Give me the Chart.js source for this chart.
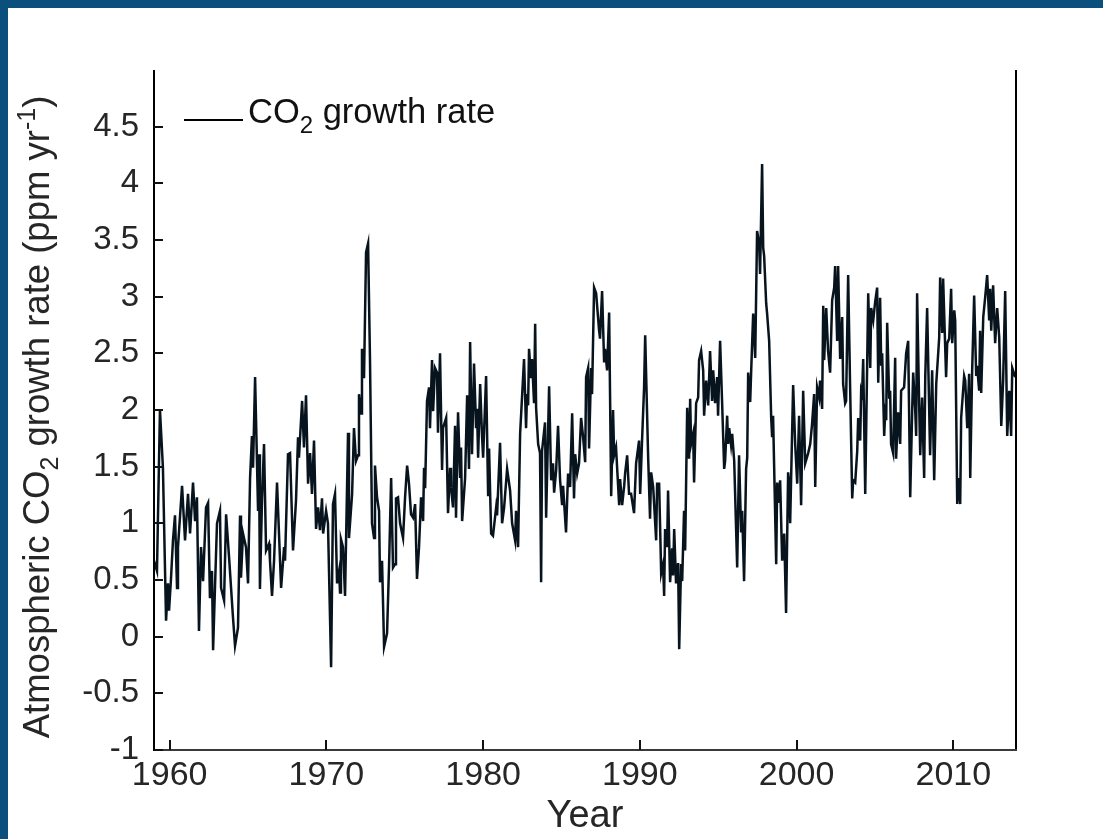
<!DOCTYPE html>
<html>
<head>
<meta charset="utf-8">
<script src="https://cdn.jsdelivr.net/npm/chart.js@4.4.0/dist/chart.umd.min.js"></script>
<style>
  html, body { margin: 0; padding: 0; background: #fff; overflow: hidden; }
  #wrap { position: relative; width: 1103px; height: 839px; }
  canvas { display: block; }
</style>
</head>
<body>
<div id="wrap"><canvas id="chart" width="1103" height="839"></canvas></div>
<script>
// Time of each sample, in decimal years
const years = [
  1959.00,1959.19,1959.38,1959.57,1959.77,1959.89,1959.96,1960.08,1960.21,1960.34,1960.47,1960.53,1960.79,1960.98,
  1961.17,1961.30,1961.49,1961.62,1961.74,1961.87,1962.00,1962.13,1962.32,1962.45,1962.57,1962.70,1962.77,1962.89,
  1963.02,1963.21,1963.28,1963.47,1963.60,1963.79,1964.04,1964.17,1964.36,1964.49,1964.55,1964.68,1964.87,1965.00,
  1965.13,1965.25,1965.32,1965.45,1965.64,1965.70,1965.76,1965.89,1966.02,1966.15,1966.34,1966.40,1966.53,1966.66,
  1966.85,1967.11,1967.30,1967.36,1967.55,1967.68,1967.87,1968.06,1968.19,1968.25,1968.45,1968.57,1968.70,1968.83,
  1968.96,1969.08,1969.21,1969.34,1969.47,1969.59,1969.72,1969.79,1969.98,1970.10,1970.30,1970.42,1970.55,1970.68,
  1970.81,1970.87,1970.93,1971.06,1971.19,1971.38,1971.44,1971.64,1971.76,1971.89,1972.02,1972.08,1972.21,1972.27,
  1972.40,1972.53,1972.66,1972.78,1972.91,1973.04,1973.10,1973.23,1973.36,1973.42,1973.55,1973.68,1973.87,1974.00,
  1974.13,1974.25,1974.38,1974.44,1974.57,1974.70,1974.89,1975.02,1975.15,1975.27,1975.40,1975.53,1975.66,1975.78,
  1975.91,1976.04,1976.17,1976.23,1976.30,1976.42,1976.55,1976.61,1976.74,1976.81,1976.93,1977.06,1977.12,1977.25,
  1977.38,1977.44,1977.64,1977.76,1977.89,1977.95,1978.08,1978.21,1978.27,1978.40,1978.53,1978.59,1978.66,1978.85,
  1978.98,1979.10,1979.17,1979.29,1979.42,1979.55,1979.61,1979.68,1979.81,1979.93,1980.00,1980.19,1980.32,1980.38,
  1980.51,1980.63,1980.83,1980.89,1981.08,1981.21,1981.34,1981.53,1981.72,1981.85,1982.04,1982.10,1982.23,1982.36,
  1982.61,1982.74,1982.80,1982.87,1982.93,1983.06,1983.12,1983.25,1983.32,1983.38,1983.51,1983.63,1983.70,1983.76,
  1983.95,1984.02,1984.21,1984.34,1984.46,1984.53,1984.66,1984.78,1984.91,1985.04,1985.10,1985.29,1985.42,1985.55,
  1985.68,1985.80,1985.87,1986.00,1986.12,1986.25,1986.38,1986.51,1986.57,1986.70,1986.76,1986.89,1986.95,1987.08,
  1987.21,1987.40,1987.46,1987.59,1987.72,1987.78,1987.91,1988.04,1988.17,1988.29,1988.36,1988.48,1988.68,1988.74,
  1988.87,1989.00,1989.06,1989.19,1989.31,1989.44,1989.63,1989.76,1989.95,1990.02,1990.14,1990.27,1990.34,1990.53,
  1990.65,1990.72,1990.85,1991.04,1991.10,1991.23,1991.36,1991.48,1991.55,1991.61,1991.74,1991.80,1991.93,1992.06,
  1992.12,1992.19,1992.31,1992.44,1992.51,1992.63,1992.70,1992.82,1992.89,1993.02,1993.14,1993.21,1993.27,1993.40,
  1993.46,1993.59,1993.72,1993.78,1993.91,1994.04,1994.10,1994.23,1994.36,1994.48,1994.61,1994.68,1994.80,1994.93,
  1994.99,1995.12,1995.25,1995.38,1995.44,1995.57,1995.63,1995.70,1995.82,1995.89,1996.02,1996.21,1996.33,1996.46,
  1996.53,1996.65,1996.78,1996.85,1996.91,1997.04,1997.10,1997.23,1997.36,1997.48,1997.61,1997.67,1997.80,1997.87,
  1997.93,1998.06,1998.12,1998.25,1998.38,1998.44,1998.50,1998.70,1998.76,1998.82,1998.95,1999.08,1999.21,1999.33,
  1999.46,1999.53,1999.59,1999.78,1999.91,2000.04,2000.16,2000.29,2000.42,2000.55,2000.74,2000.87,2000.99,2001.12,
  2001.19,2001.31,2001.44,2001.50,2001.63,2001.70,2001.76,2001.89,2002.01,2002.14,2002.27,2002.40,2002.46,2002.59,
  2002.65,2002.78,2002.91,2002.97,2003.10,2003.16,2003.29,2003.42,2003.55,2003.61,2003.74,2003.87,2003.93,2004.06,
  2004.12,2004.18,2004.25,2004.38,2004.50,2004.57,2004.70,2004.76,2004.89,2005.01,2005.14,2005.21,2005.33,2005.40,
  2005.46,2005.59,2005.65,2005.72,2005.78,2005.91,2005.97,2006.03,2006.16,2006.29,2006.35,2006.48,2006.61,2006.67,
  2006.86,2006.99,2007.12,2007.25,2007.38,2007.44,2007.57,2007.63,2007.69,2007.82,2007.89,2008.01,2008.14,2008.21,
  2008.33,2008.52,2008.65,2008.78,2008.91,2009.10,2009.16,2009.29,2009.35,2009.54,2009.61,2009.74,2009.86,2009.93,
  2010.06,2010.12,2010.25,2010.31,2010.44,2010.50,2010.69,2010.76,2010.89,2011.01,2011.08,2011.20,2011.33,2011.46,
  2011.52,2011.65,2011.71,2011.78,2011.91,2012.03,2012.16,2012.29,2012.35,2012.42,2012.54,2012.61,2012.67,2012.80,
  2012.93,2013.06,2013.18,2013.31,2013.44,2013.57,2013.69,2013.76,2013.95
];

// Atmospheric CO2 growth rate, ppm per year
const growthRate = [
  0.67,0.58,2.00,1.49,0.14,0.47,0.23,0.50,0.85,1.07,0.43,0.79,1.33,0.85,
  1.26,0.91,1.36,1.02,1.23,0.05,0.79,0.49,1.14,1.18,0.34,0.58,-0.12,0.43,
  1.00,1.11,0.43,0.32,1.08,0.70,0.17,-0.08,0.08,1.07,0.52,0.91,0.79,0.47,
  1.40,1.77,1.49,2.29,1.11,1.61,0.42,1.20,1.70,0.76,0.82,0.67,0.36,0.67,
  1.36,0.43,0.79,0.67,1.61,1.62,0.76,1.20,1.76,1.58,2.08,1.67,2.13,1.35,
  1.62,1.26,1.73,0.95,1.14,0.94,1.22,0.91,1.11,1.00,-0.27,1.17,1.26,0.47,
  0.58,0.39,0.86,0.79,0.36,1.80,0.87,1.26,1.84,1.55,1.60,2.14,1.97,2.54,
  2.28,3.39,3.47,2.46,1.00,0.87,1.51,1.23,1.11,0.48,0.67,-0.09,0.03,0.64,
  1.40,0.61,0.64,1.22,1.23,1.00,0.87,1.23,1.51,1.35,1.08,1.05,1.17,0.51,
  0.79,1.23,1.02,1.49,1.31,2.08,2.20,1.84,2.44,1.99,2.37,2.33,1.80,2.50,
  1.47,1.84,1.93,1.09,1.49,1.32,1.14,1.86,1.05,1.98,1.40,1.67,1.02,1.40,
  2.13,1.48,2.60,1.61,2.41,1.84,2.01,1.58,2.23,1.77,1.58,2.30,1.24,1.66,
  0.91,0.89,1.14,1.07,1.71,1.00,1.14,1.48,1.29,1.00,0.85,1.11,0.79,1.79,
  2.45,1.84,2.14,2.04,2.54,2.28,2.45,2.06,2.76,2.02,1.70,1.62,0.48,1.64,
  1.89,1.05,2.21,1.38,1.53,1.27,1.47,1.86,1.38,1.16,1.33,0.92,1.44,1.32,
  1.97,1.22,1.61,1.44,1.53,1.93,1.76,1.54,2.29,2.37,1.66,2.37,2.14,3.08,
  3.03,2.70,2.63,3.05,2.42,2.54,2.35,2.86,1.24,2.00,1.60,1.67,1.16,1.39,
  1.16,1.33,1.44,1.60,1.26,1.26,1.09,1.53,1.73,1.26,1.73,2.20,2.66,1.58,
  1.04,1.45,1.32,0.85,1.35,1.35,0.56,0.64,0.36,0.95,0.79,1.29,0.48,0.78,
  0.54,0.95,0.47,0.65,-0.11,0.64,0.49,1.11,0.76,2.02,1.57,2.10,1.70,1.79,
  1.36,2.06,2.11,2.44,2.52,2.35,1.95,2.26,2.04,2.52,2.08,2.35,2.06,2.29,
  1.95,2.61,2.06,1.48,1.55,1.95,1.70,1.84,1.69,1.79,1.55,0.61,1.60,0.92,
  1.11,0.49,1.48,1.58,2.33,2.07,2.33,2.85,2.46,3.58,3.47,3.20,4.17,3.43,
  3.36,2.94,2.85,2.61,1.93,1.76,1.95,0.64,1.36,1.18,1.38,0.67,0.91,0.21,
  1.45,1.35,1.00,2.22,1.70,1.35,1.95,1.16,2.17,1.53,1.62,1.70,1.88,2.14,
  1.32,2.20,2.11,2.26,2.01,2.92,2.44,2.90,2.52,2.33,2.97,3.08,3.27,2.61,
  3.27,2.45,2.82,2.23,2.06,2.08,3.19,2.17,1.22,1.38,1.36,1.64,1.93,1.73,
  2.17,2.14,2.45,1.26,2.37,3.03,2.37,2.90,2.79,2.95,3.08,2.24,2.99,2.39,
  2.50,1.77,1.97,1.91,2.77,2.10,2.17,1.70,1.62,2.46,1.57,1.98,1.70,2.17,
  2.20,2.50,2.61,1.23,2.02,2.33,2.00,1.77,3.03,2.06,1.60,2.11,1.40,2.29,
  2.90,1.60,2.35,1.38,2.23,2.64,3.17,2.68,3.16,2.29,2.59,2.63,3.07,2.59,
  2.88,2.79,1.17,1.40,1.17,1.93,2.30,2.26,1.84,2.32,1.40,2.33,3.01,2.30,
  2.39,2.17,2.70,2.15,2.82,2.99,3.19,2.79,3.07,2.70,3.10,2.82,2.59,2.90,
  2.64,1.86,2.26,3.05,1.77,2.17,1.77,2.37,2.29
];

// Axis tick labels
const xTickValues = [1960, 1970, 1980, 1990, 2000, 2010];
const yTickValues = [-1, -0.5, 0, 0.5, 1, 1.5, 2, 2.5, 3, 3.5, 4, 4.5];

const seriesLabel = 'growth rate';
const xTitle = 'Year';

const FONT = '"Liberation Sans", Arial, Helvetica, sans-serif';
const TEXT = '#262626';
const LINE = '#07131d';

// Draw a run of text pieces (normal / subscript / superscript) starting at x, baseline y
function drawRuns(ctx, runs, x, y) {
  let cx = x;
  for (const r of runs) {
    ctx.font = r.size + 'px ' + FONT;
    ctx.fillText(r.text, cx, y + r.dy);
    cx += ctx.measureText(r.text).width;
  }
  return cx - x;
}
function runsWidth(ctx, runs) {
  let w = 0;
  for (const r of runs) { ctx.font = r.size + 'px ' + FONT; w += ctx.measureText(r.text).width; }
  return w;
}

const decorations = {
  id: 'decorations',
  beforeDraw(chart) {
    const ctx = chart.ctx;
    ctx.save();
    ctx.fillStyle = '#ffffff';
    ctx.fillRect(0, 0, chart.width, chart.height);
    // dark blue frame along the top and left edges
    ctx.fillStyle = '#0b4f7d';
    ctx.fillRect(0, 0, chart.width, 8);
    ctx.fillRect(0, 0, 8, chart.height);
    ctx.restore();
  },
  afterDraw(chart) {
    const ctx = chart.ctx;
    const a = chart.chartArea;
    const xs = chart.scales.x, ys = chart.scales.y;
    ctx.save();

    // axis lines: left, right and bottom
    ctx.lineCap = 'butt';
    ctx.lineWidth = 2;
    ctx.strokeStyle = '#000';
    ctx.beginPath();
    ctx.moveTo(a.left, a.top); ctx.lineTo(a.left, a.bottom + 1);
    ctx.moveTo(a.right, a.top); ctx.lineTo(a.right, a.bottom + 1);
    ctx.stroke();
    ctx.strokeStyle = '#3a3a3a';
    ctx.beginPath();
    ctx.moveTo(a.left, a.bottom); ctx.lineTo(a.right + 1, a.bottom);
    ctx.stroke();

    // inward tick marks
    ctx.strokeStyle = '#111';
    ctx.lineWidth = 2;
    ctx.beginPath();
    for (const v of yTickValues) {
      const py = Math.round(ys.getPixelForValue(v));
      ctx.moveTo(a.left, py); ctx.lineTo(a.left + 9, py);
    }
    for (const v of xTickValues) {
      const px = Math.round(xs.getPixelForValue(v));
      ctx.moveTo(px, a.bottom); ctx.lineTo(px, a.bottom - 10);
    }
    ctx.stroke();

    ctx.fillStyle = TEXT;
    ctx.textBaseline = 'alphabetic';
    ctx.textAlign = 'left';

    // x axis title
    ctx.font = '38px ' + FONT;
    ctx.textAlign = 'center';
    ctx.fillText(xTitle, (a.left + a.right) / 2, 827);
    ctx.textAlign = 'left';

    // y axis title, rotated, with subscript and superscript
    const yRuns = [
      { text: 'Atmospheric CO', size: 36.5, dy: 0 },
      { text: '2', size: 25, dy: 9 },
      { text: ' growth rate (ppm yr', size: 36.5, dy: 0 },
      { text: '-1', size: 25, dy: -14 },
      { text: ')', size: 36.5, dy: 0 }
    ];
    const yw = runsWidth(ctx, yRuns);
    ctx.save();
    ctx.translate(49, (a.top + a.bottom) / 2 + 7);
    ctx.rotate(-Math.PI / 2);
    drawRuns(ctx, yRuns, -yw / 2, 0);
    ctx.restore();

    // legend: sample line and label
    ctx.strokeStyle = '#000';
    ctx.lineWidth = 2;
    ctx.beginPath();
    ctx.moveTo(a.left + 30, a.top + 50);
    ctx.lineTo(a.left + 89, a.top + 50);
    ctx.stroke();
    ctx.fillStyle = '#111';
    drawRuns(ctx, [
      { text: 'CO', size: 34.5, dy: 0 },
      { text: '2', size: 24, dy: 10 },
      { text: ' ' + seriesLabel, size: 34.5, dy: 0 }
    ], a.left + 94, a.top + 53);

    ctx.restore();
  }
};

const points = years.map((t, i) => ({ x: t, y: growthRate[i] }));

new Chart(document.getElementById('chart'), {
  type: 'line',
  data: {
    datasets: [{
      label: 'CO2 ' + seriesLabel,
      data: points,
      borderColor: LINE,
      borderWidth: 2.5,
      pointRadius: 0,
      tension: 0,
      fill: false
    }]
  },
  options: {
    responsive: false,
    animation: false,
    devicePixelRatio: 1,
    layout: { padding: { top: 70, right: 87, left: 0, bottom: 0 } },
    plugins: { legend: { display: false }, tooltip: { enabled: false } },
    scales: {
      x: {
        type: 'linear',
        min: 1959,
        max: 2014,
        grid: { display: false, drawTicks: false },
        border: { display: false },
        afterBuildTicks(s) { s.ticks = xTickValues.map(v => ({ value: v })); },
        afterFit(s) { s.height = 89; },
        ticks: {
          padding: 5,
          color: TEXT,
          font: { family: FONT, size: 34 },
          maxRotation: 0,
          autoSkip: false,
          callback: v => String(v)
        }
      },
      y: {
        type: 'linear',
        min: -1,
        max: 5,
        grid: { display: false, drawTicks: false },
        border: { display: false },
        afterBuildTicks(s) { s.ticks = yTickValues.map(v => ({ value: v })); },
        afterFit(s) { s.width = 154; },
        ticks: {
          padding: 15,
          color: TEXT,
          font: { family: FONT, size: 33 },
          autoSkip: false,
          callback: v => String(v)
        }
      }
    }
  },
  plugins: [decorations]
});
</script>
</body>
</html>
